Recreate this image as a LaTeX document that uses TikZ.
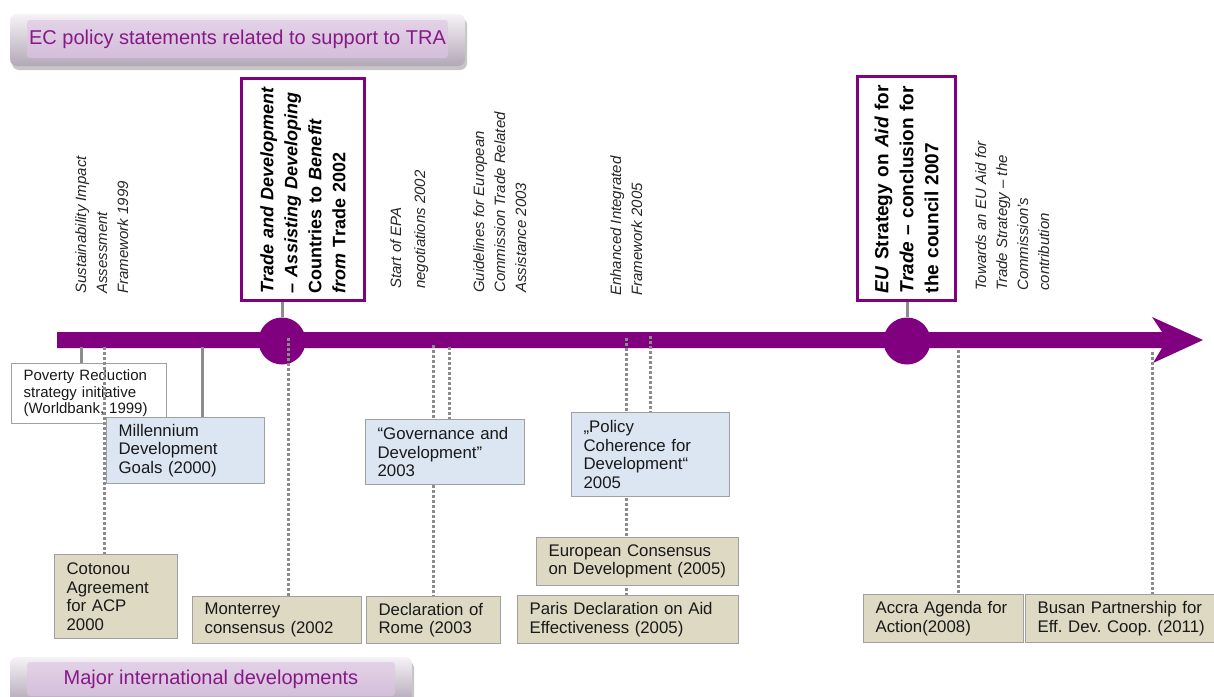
\documentclass[tikz,border=0pt]{standalone}
\usepackage{fontspec}
\setmainfont{Liberation Sans}
\usepackage{tikz}
\usetikzlibrary{shadows}

\definecolor{tlpurple}{RGB}{128,0,128}
\definecolor{bantext}{RGB}{135,25,135}
\definecolor{tanfill}{RGB}{221,217,195}
\definecolor{bluefill}{RGB}{220,230,242}
\definecolor{boxline}{RGB}{160,160,160}
\definecolor{linkgray}{RGB}{140,140,140}

\frenchspacing
\begin{document}
\begin{tikzpicture}[x=1pt,y=1pt,yscale=-1,
    banner/.style={rounded corners=7pt, top color={rgb,255:red,246;green,242;blue,247},
      bottom color={rgb,255:red,178;green,168;blue,182}, draw=none,
      drop shadow={opacity=0.45, shadow xshift=2pt, shadow yshift=-4pt}, inner sep=0pt},
    bannerface/.style={rounded corners=3pt, top color={rgb,255:red,226;green,210;blue,230},
      middle color={rgb,255:red,236;green,225;blue,238}, bottom color={rgb,255:red,212;green,190;blue,218},
      draw=none, inner sep=0pt, text=bantext, font=\fontsize{20}{24}\selectfont},
    evbox/.style={draw=boxline, line width=1.2pt, anchor=north west, align=left, inner xsep=12pt,
      inner ysep=3pt, font=\fontsize{16.8}{18.5}\selectfont, text=black!90},
    tanbox/.style={evbox, fill=tanfill},
    bluebox/.style={evbox, fill=bluefill},
    whitebox/.style={evbox, fill=white, font=\fontsize{15}{16.5}\selectfont},
    keybox/.style={draw=tlpurple, line width=3pt, fill=white, rotate=90, align=left, inner xsep=7pt,
      font=\bfseries\fontsize{18}{24}\selectfont},
    vlabel/.style={rotate=90, anchor=north west, align=left, inner sep=0pt,
      font=\itshape\fontsize{15}{21}\selectfont, text=black!85},
    solidlink/.style={draw=linkgray, line width=3pt},
    dotlink/.style={draw=linkgray, line width=3pt, dash pattern=on 3pt off 2pt}
  ]
  \useasboundingbox (0,0) rectangle (1214,696);

  % Banners
  \node[banner, minimum width=455pt, minimum height=52pt] (ectop) at (237.5,40) {};
  \node[bannerface, minimum width=421pt, minimum height=38pt] (ectitle) at (237.5,39)
    {EC policy statements related to support to TRA};
  \node[banner, minimum width=402pt, minimum height=46pt] (majbot) at (211,680) {};
  \node[bannerface, minimum width=368pt, minimum height=34pt] (majtitle) at (211,679)
    {Major international developments};

  % Timeline arrow
  \fill[tlpurple] (57,332) -- (1162,332) -- (1152,317) -- (1203,340) -- (1153,363)
    -- (1162,348) -- (57,348) -- cycle;
  \node[circle, fill=tlpurple, minimum size=47pt, inner sep=0pt] (c2002) at (282,341) {};
  \node[circle, fill=tlpurple, minimum size=47pt, inner sep=0pt] (c2007) at (907,341) {};

  % Key policy boxes
  \node[keybox, text width=208pt, minimum height=123pt] (tdbox) at (303,189)
    {\textit{Trade and Development}\\\textit{– Assisting Developing}\\Countries to \textit{Benefit}\\\textit{from} Trade 2002};
  \node[keybox, text width=210pt, minimum height=98pt, font=\bfseries\fontsize{19}{25}\selectfont] (eubox) at (906.5,188)
    {\textit{EU} Strategy on \textit{Aid} for\\\textit{Trade} – conclusion for\\the council 2007};
  \draw[solidlink] (c2002.north) -- (c2002.north |- tdbox.west);
  \draw[solidlink] (c2007.north) -- (c2007.north |- eubox.west);

  % Rotated labels
  \node[vlabel] (sia) at (75,294) {Sustainability Impact\\Assessment\\Framework 1999};
  \node[vlabel] (epa) at (390,289) {Start of EPA\\[3pt]negotiations 2002};
  \node[vlabel] (guide) at (473,293) {Guidelines for European\\Commission Trade Related\\Assistance 2003};
  \node[vlabel] (eif) at (610,296) {Enhanced Integrated\\Framework 2005};
  \node[vlabel] (tow) at (975,291) {Towards an EU Aid for\\Trade Strategy – the\\Commission’s\\contribution};

  % Points on the timeline
  \coordinate (tpov) at (81,347);
  \coordinate (tcot) at (104,347);
  \coordinate (tmdg) at (202,347);
  \coordinate (tmon) at (288,338);
  \coordinate (trom) at (433,345);
  \coordinate (tgov) at (449,347);
  \coordinate (tpar) at (626,338);
  \coordinate (tpol) at (650,336);
  \coordinate (tacc) at (958,350);
  \coordinate (tbus) at (1152,352);

  % Event boxes
  \node[whitebox, text width=131pt, minimum height=60pt] (pov) at (11,363)
    {Poverty Reduction\\strategy initiative\\(Worldbank, 1999)};
  \node[tanbox, text width=99pt, minimum height=84pt] (cot) at (54,554)
    {Cotonou\\Agreement\\for ACP\\2000};
  \node[tanbox, text width=145pt, minimum height=47pt] (mon) at (192,596)
    {Monterrey\\consensus (2002};
  \node[tanbox, text width=110pt, minimum height=47pt] (rom) at (366,596)
    {Declaration of\\Rome (2003};
  \node[tanbox, text width=197pt, minimum height=48pt] (par) at (517,595)
    {Paris Declaration on Aid\\Effectiveness (2005)};
  \node[tanbox, text width=136pt, minimum height=48pt] (acc) at (863,594)
    {Accra Agenda for\\Action(2008)};
  \node[tanbox, text width=180pt, minimum height=48pt] (bus) at (1025,594)
    {Busan Partnership for\\Eff. Dev. Coop. (2011)};

  % Links drawn under the boxes
  \draw[solidlink] (tpov) -- (tpov |- pov.north);
  \draw[solidlink] (tmdg) -- (tmdg |- 0,417);
  \draw[dotlink] (tmon) -- (tmon |- mon.north);
  \draw[dotlink] (trom) -- (trom |- rom.north);
  \draw[dotlink] (tgov) -- (tgov |- 0,419);
  \draw[dotlink] (tpar) -- (tpar |- par.north);
  \draw[dotlink] (tpol) -- (tpol |- 0,412);
  \draw[dotlink] (tacc) -- (tacc |- acc.north);
  \draw[dotlink] (tbus) -- (tbus |- bus.north);

  \node[bluebox, text width=134pt, minimum height=66pt] (mdg) at (106,417)
    {Millennium\\Development\\Goals (2000)};
  \node[bluebox, text width=135pt, minimum height=65pt] (gov) at (365,419)
    {“Governance and\\Development”\\2003};
  \node[bluebox, text width=134pt, minimum height=84pt] (pol) at (571,412)
    {„Policy\\Coherence for\\Development“\\2005};
  \node[tanbox, text width=178pt, minimum height=48pt] (eur) at (536,537)
    {European Consensus\\on Development (2005)};

  % Link over the white box
  \draw[dotlink] (tcot) -- (tcot |- cot.north);
\end{tikzpicture}
\end{document}
